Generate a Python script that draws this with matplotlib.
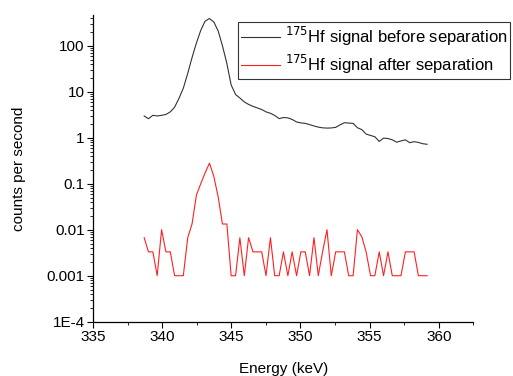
import numpy as np
import matplotlib
matplotlib.use("Agg")
import matplotlib.pyplot as plt
from matplotlib.ticker import FixedLocator, FixedFormatter, LogLocator, MultipleLocator, NullFormatter

plt.rcParams['font.family'] = ['Liberation Sans', 'DejaVu Sans']

energy = [338.70, 339.01, 339.33, 339.64, 339.96, 340.27, 340.59, 340.90, 341.22, 341.53,
          341.85, 342.16, 342.48, 342.79, 343.10, 343.42, 343.73, 344.05, 344.36, 344.68,
          344.99, 345.31, 345.62, 345.94, 346.25, 346.57, 346.88, 347.20, 347.51, 347.83,
          348.14, 348.46, 348.77, 349.09, 349.40, 349.72, 350.03, 350.35, 350.66, 350.98,
          351.29, 351.60, 351.92, 352.23, 352.55, 352.86, 353.18, 353.49, 353.81, 354.12,
          354.44, 354.75, 355.07, 355.38, 355.70, 356.01, 356.33, 356.64, 356.96, 357.27,
          357.59, 357.90, 358.22, 358.53, 358.85, 359.16]

before = [2.97, 2.59, 3.07, 2.97, 3.07, 3.2, 3.65, 4.6, 7.2, 11.9,
          25, 55, 115, 215, 340, 390, 330, 210, 100, 41,
          14, 8.7, 7.3, 6.0, 5.3, 4.8, 4.45, 4.1, 3.65, 3.4,
          3.05, 2.6, 2.75, 2.7, 2.5, 2.2, 2.1, 2.05, 1.93, 1.8,
          1.7, 1.64, 1.62, 1.63, 1.68, 1.9, 2.12, 2.08, 2.05, 1.65,
          1.5, 1.2, 1.12, 1.05, 0.83, 0.98, 0.96, 0.9, 0.8, 0.85,
          0.9, 0.78, 0.82, 0.79, 0.74, 0.72]

after = [0.0067, 0.0033, 0.0033, 0.001, 0.01, 0.0033, 0.0033, 0.001, 0.001, 0.001,
         0.0067, 0.0133, 0.057, 0.1, 0.17, 0.28, 0.147, 0.052, 0.0133, 0.0133,
         0.001, 0.001, 0.0067, 0.001, 0.0067, 0.0033, 0.0033, 0.0033, 0.001, 0.0067,
         0.001, 0.001, 0.0033, 0.001, 0.0033, 0.001, 0.0033, 0.0033, 0.001, 0.0067,
         0.001, 0.0033, 0.01, 0.001, 0.0033, 0.0033, 0.0033, 0.001, 0.001, 0.01,
         0.007, 0.0033, 0.001, 0.001, 0.0033, 0.001, 0.0033, 0.001, 0.001, 0.001,
         0.0033, 0.0033, 0.0033, 0.001, 0.001, 0.001]

x_ticks = [335, 340, 345, 350, 355, 360]
y_ticks = [1e-4, 1e-3, 1e-2, 1e-1, 1, 10, 100]
y_tick_labels = ['1E-4', '0.001', '0.01', '0.1', '1', '10', '100']

fig = plt.figure(figsize=(5.13, 3.76), dpi=100)
ax = fig.add_axes([0.1813, 0.1444, 0.9226 - 0.1813, 0.960 - 0.1444])

ax.plot(energy, before, color='#333333', lw=0.8,
        label=r'$^{175}$Hf signal before separation')
ax.plot(energy, after, color='#ff2020', lw=0.8,
        label=r'$^{175}$Hf signal after separation')

ax.set_yscale('log')
ax.set_xlim(335, 362.5)
ax.set_ylim(1e-4, 10 ** 2.667)

ax.xaxis.set_major_locator(FixedLocator(x_ticks))
ax.xaxis.set_minor_locator(MultipleLocator(2.5))
ax.yaxis.set_major_locator(FixedLocator(y_ticks))
ax.yaxis.set_major_formatter(FixedFormatter(y_tick_labels))
ax.yaxis.set_minor_locator(LogLocator(base=10, subs=np.arange(2, 10)))
ax.yaxis.set_minor_formatter(NullFormatter())

for s in ['top', 'right']:
    ax.spines[s].set_visible(False)
for s in ['left', 'bottom']:
    ax.spines[s].set_linewidth(0.9)

ax.tick_params(which='major', direction='out', length=4, width=0.8, labelsize=11, pad=2)
ax.tick_params(which='minor', direction='out', length=2.5, width=0.6)

ax.set_xlabel('Energy (keV)', fontsize=11, labelpad=13)
ax.set_ylabel('counts per second', fontsize=11, labelpad=15)

leg = fig.legend(loc='upper left', bbox_to_anchor=(238 / 513, 1 - 21.5 / 376),
                 frameon=True, fancybox=False, edgecolor='black', fontsize=12,
                 handlelength=2.3, handletextpad=0.3, borderpad=0.2,
                 labelspacing=0.3, borderaxespad=0)
leg.get_frame().set_linewidth(0.8)

fig.savefig('out.png', dpi=100)
